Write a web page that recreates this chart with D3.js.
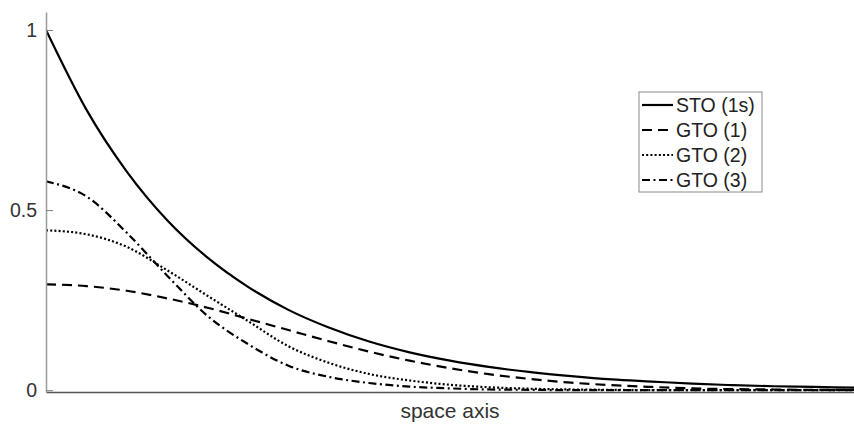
<!DOCTYPE html>
<html>
<head>
<meta charset="utf-8">
<script src="https://cdn.jsdelivr.net/npm/d3@7"></script>
<style>
  html, body { margin: 0; padding: 0; background: #fff; }
  svg { display: block; font-family: "Liberation Sans", Arial, sans-serif; }
</style>
</head>
<body>
<svg id="chart" width="854" height="425"></svg>
<script>
// Sample positions along the space axis
const positions = [0, 0.25, 0.5, 0.75, 1, 1.25, 1.5, 1.75, 2, 2.25, 2.5,
                   2.75, 3, 3.25, 3.5, 3.75, 4, 4.25, 4.5, 4.75, 5];

// Slater-type orbital, 1s
const sto1s = [1.000, 0.779, 0.607, 0.472, 0.368, 0.287, 0.223, 0.174, 0.135, 0.105, 0.082,
               0.064, 0.050, 0.039, 0.030, 0.024, 0.018, 0.014, 0.011, 0.009, 0.007];
// Gaussian-type approximations
const gto1 = [0.294, 0.289, 0.276, 0.255, 0.229, 0.198, 0.167, 0.136, 0.107, 0.082, 0.061,
              0.044, 0.031, 0.021, 0.014, 0.009, 0.005, 0.003, 0.002, 0.001, 0.001];
const gto2 = [0.444, 0.433, 0.398, 0.333, 0.262, 0.192, 0.122, 0.076, 0.045, 0.027, 0.015,
              0.008, 0.004, 0.002, 0.001, 0.000, 0.000, 0.000, 0.000, 0.000, 0.000];
const gto3 = [0.580, 0.538, 0.437, 0.318, 0.206, 0.128, 0.068, 0.037, 0.020, 0.010, 0.005,
              0.002, 0.001, 0.000, 0.000, 0.000, 0.000, 0.000, 0.000, 0.000, 0.000];

const seriesNames = ["STO (1s)", "GTO (1)", "GTO (2)", "GTO (3)"];
const yTickValues = [0, 0.5, 1];
const yTickLabels = ["0", "0.5", "1"];
const xLabel = "space axis";

const series = [
  { name: seriesNames[0], values: sto1s, dash: null },
  { name: seriesNames[1], values: gto1,  dash: "10,6" },
  { name: seriesNames[2], values: gto2,  dash: "2,2.2" },
  { name: seriesNames[3], values: gto3,  dash: "8,3.5,2,3.5" }
];

const svg = d3.select("#chart");
const plotLeft = 46, plotRight = 854, plotTop = 12, plotBottom = 392;

const x = d3.scaleLinear().domain([0, 5]).range([plotLeft, plotRight]);
const y = d3.scaleLinear().domain([-0.005, 1.05]).range([plotBottom, plotTop]);

svg.append("defs").append("clipPath").attr("id", "plot-clip")
  .append("rect").attr("x", plotLeft).attr("y", plotTop - 2)
  .attr("width", plotRight - plotLeft).attr("height", plotBottom - plotTop + 2);

// Curves
const line = d3.line()
  .x((d, i) => x(positions[i]))
  .y(d => y(d))
  .curve(d3.curveMonotoneX);

const curves = svg.append("g").attr("clip-path", "url(#plot-clip)");
series.forEach(s => {
  curves.append("path")
    .attr("d", line(s.values))
    .attr("fill", "none")
    .attr("stroke", "#000")
    .attr("stroke-width", 2.2)
    .attr("stroke-dasharray", s.dash);
});

// Bottom axis (no ticks)
const xAxis = d3.axisBottom(x).tickValues([]).tickSizeOuter(0);
const gx = svg.append("g").attr("transform", `translate(0,${plotBottom})`).call(xAxis);
gx.select(".domain").attr("stroke", "#555").attr("stroke-width", 1.3);

// Left axis with inward ticks
const yAxis = d3.axisLeft(y)
  .tickValues(yTickValues)
  .tickFormat((d, i) => yTickLabels[i])
  .tickSizeInner(-7)
  .tickSizeOuter(0)
  .tickPadding(9);
const gy = svg.append("g").attr("transform", `translate(${plotLeft},0)`).call(yAxis);
gy.select(".domain").attr("stroke", "#9a9a9a").attr("stroke-width", 1.5);
gy.selectAll(".tick line").attr("stroke", "#7a7a7a").attr("stroke-width", 1);
gy.selectAll(".tick text")
  .attr("fill", "#333")
  .style("font-size", "19.5px")
  .style("font-family", "'Liberation Sans', Arial, sans-serif");

// Axis title
svg.append("text")
  .attr("x", (plotLeft + plotRight) / 2)
  .attr("y", 418)
  .attr("text-anchor", "middle")
  .attr("fill", "#333")
  .style("font-size", "21px")
  .text(xLabel);

// Legend
const lg = svg.append("g").attr("transform", "translate(639,92)");
lg.append("rect")
  .attr("x", 0).attr("y", 0).attr("width", 123).attr("height", 100)
  .attr("fill", "#fff").attr("stroke", "#8a8a8a").attr("stroke-width", 1);
series.forEach((s, i) => {
  const cy = 13 + i * 25;
  lg.append("line")
    .attr("x1", 3).attr("x2", 34).attr("y1", cy).attr("y2", cy)
    .attr("stroke", "#000").attr("stroke-width", 2.2)
    .attr("stroke-dasharray", s.dash);
  lg.append("text")
    .attr("x", 37).attr("y", cy)
    .attr("dy", "0.36em")
    .attr("fill", "#222")
    .style("font-size", "19.5px")
    .text(s.name);
});
</script>
</body>
</html>
